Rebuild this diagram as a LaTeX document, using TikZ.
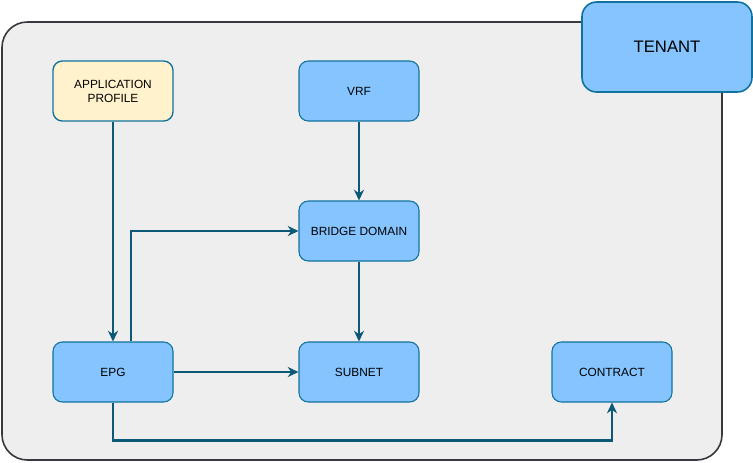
\documentclass[tikz,border=0pt]{standalone}
\usepackage{fontspec}
\setmainfont{Liberation Sans}
\usepackage{tikz}
\usetikzlibrary{arrows.meta,positioning}
\definecolor{boxblue}{HTML}{85C4FF}
\definecolor{boxline}{HTML}{10739E}
\definecolor{linkblue}{HTML}{0B5878}
\definecolor{apyellow}{HTML}{FFF2CC}
\definecolor{tenantgrey}{HTML}{EEEEEE}
\definecolor{tenantline}{HTML}{36393D}
\begin{document}
\begin{tikzpicture}[x=0.75pt, y=-0.75pt,
    object/.style={draw=boxline, line width=0.8pt, rounded corners=7pt, fill=boxblue, minimum width=90pt, minimum height=45pt, align=center, font=\fontsize{8.9}{10.5}\selectfont},
    profile/.style={object, fill=apyellow, line width=1pt},
    tenant/.style={draw=boxline, line width=1.2pt, rounded corners=11pt, fill=boxblue, minimum width=127.5pt, minimum height=67.5pt, font=\fontsize{12.5}{14}\selectfont},
    link/.style={draw=linkblue, line width=1.6pt, -{Stealth[length=8pt, width=7.5pt, inset=2.5pt]}}
]
\useasboundingbox (0,0) rectangle (753,462);
\draw[fill=tenantgrey, draw=tenantline, line width=1.2pt, rounded corners=19pt] (2,22) rectangle (722,460);
\node[tenant] (tenant) at (667,47) {TENANT};
\node[profile] (app) at (113,91) {APPLICATION\\PROFILE};
\node[object] (vrf) at (359,91) {VRF};
\node[object] (bd) at (359,231) {BRIDGE DOMAIN};
\node[object] (epg) at (113,372) {EPG};
\node[object] (subnet) at (359,372) {SUBNET};
\node[object] (contract) at (612,372) {CONTRACT};
\draw[link] (app.south) -- (epg.north);
\draw[link] ([xshift=13.5pt]epg.north) |- (bd.west);
\draw[link] (vrf.south) -- (bd.north);
\draw[link] (bd.south) -- (subnet.north);
\draw[link] (epg.east) -- (subnet.west);
\draw[link] (epg.south) -- ++(0,38) -| (contract.south);
\end{tikzpicture}
\end{document}
